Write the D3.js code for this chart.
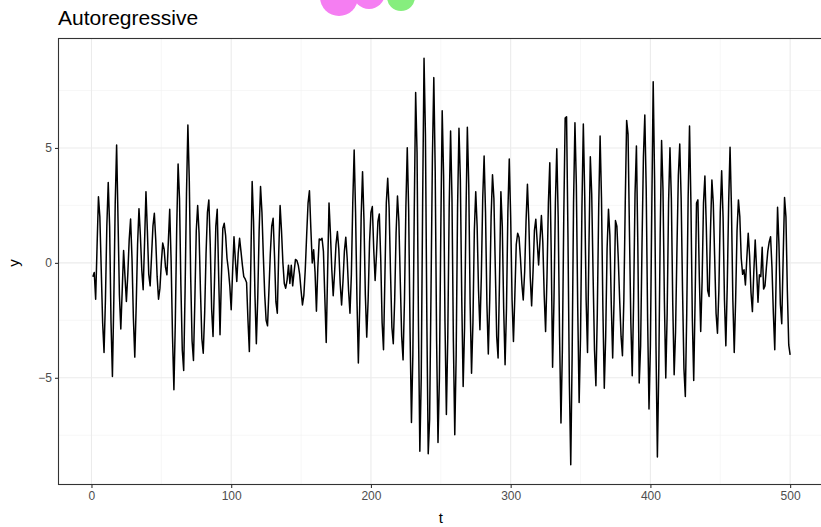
<!DOCTYPE html>
<html>
<head>
<meta charset="utf-8">
<script src="https://cdn.jsdelivr.net/npm/d3@7"></script>
<style>
  html, body { margin: 0; padding: 0; background: #ffffff; }
  svg { display: block; font-family: "Liberation Sans", Arial, Helvetica, sans-serif; }
</style>
</head>
<body>
<svg id="chart" width="821" height="527"></svg>
<script>
// Simulated autoregressive series, one value per time step t = 1..500
const yValues = [
  -0.6, -0.42, -1.58, 0.7, 2.88, 2.0, -0.3, -2.6, -3.9, -1.6,
  1.6, 3.5, 1.6, -2.6, -4.94, -1.6, 2.6, 5.13, 1.9, -1.4,
  -2.88, -1.2, 0.54, -0.6, -1.68, -0.5, 1.0, 1.91, 0.2, -2.4,
  -4.1, -1.9, 0.8, 2.36, 1.2, -0.3, -1.17, 0.9, 3.1, 1.4,
  -0.5, -1.0, 0.3, 1.6, 2.16, 1.0, -0.6, -1.58, -1.1, 0.0,
  0.86, 0.6, -0.2, -0.52, 0.9, 2.33, 0.1, -3.2, -5.52, -2.6,
  1.5, 4.3, 2.8, -1.0, -3.8, -4.68, -1.2, 3.0, 6.0, 3.6,
  -0.6, -3.4, -4.25, -1.6, 1.4, 2.5, 1.3, -1.2, -3.3, -3.93,
  -2.2, 0.4, 2.2, 2.74, 0.8, -2.0, -3.2, -0.9, 1.6, 2.33,
  -0.5, -3.13, -0.6, 1.5, 1.72, 1.2, 0.2, -0.3, -1.0, -2.04,
  -0.4, 1.14, 0.1, -0.81, 0.4, 1.07, 0.5, -0.1, -0.6, -0.7,
  -0.85, -2.5, -3.86, -0.2, 3.54, 1.8, -1.4, -3.52, -1.5, 1.4,
  3.32, 2.2, 0.3, -1.4, -2.5, -2.74, -1.2, 0.4, 1.6, 1.94,
  0.3, -1.7, -2.19, 0.4, 2.5, 1.4, 0.0, -0.9, -1.1, -0.75,
  -0.1, -0.9, -0.1, -1.0, -0.4, 0.15, 0.1, -0.1, -0.5, -1.2,
  -1.83, -1.4, -0.3, 1.2, 2.6, 3.14, 1.5, 0.0, 0.57, -0.4,
  -2.1, -0.2, 1.04, 1.0, 1.07, 0.5, -1.5, -3.46, -0.4, 2.6,
  1.3, -0.3, -1.43, -0.4, 0.8, 1.36, 0.6, -0.9, -1.83, -0.8,
  0.5, 1.12, 0.2, -1.2, -2.19, -0.5, 2.6, 4.91, 2.2, -1.6,
  -4.36, -1.8, 2.0, 3.97, 1.9, -1.4, -3.23, -1.6, 0.9, 2.2,
  2.45, 0.6, -0.77, 0.4, 1.8, 2.13, 0.2, -2.6, -3.78, -0.6,
  2.6, 3.68, 2.4, -0.4, -2.8, -3.52, -1.6, 1.3, 2.91, 1.8,
  -0.8, -3.2, -4.22, -1.6, 2.4, 5.01, 2.3, -3.0, -6.94, -4.0,
  2.2, 7.41, 4.8, -2.6, -8.2, -5.0, 2.6, 8.9, 5.6, -2.4,
  -8.3, -6.8, -1.2, 4.6, 8.06, 4.0, -3.4, -7.81, -5.0, 1.4,
  6.62, 3.8, -2.6, -6.6, -3.2, 2.4, 5.74, 2.8, -3.4, -7.48,
  -4.0, 2.4, 5.86, 3.6, -1.6, -5.38, -2.8, 2.0, 5.9, 3.4,
  -1.8, -4.8, -2.6, 1.4, 3.1, 1.6, -1.2, -2.91, -0.6, 2.8,
  4.65, 2.2, -1.8, -3.96, -1.6, 2.0, 3.83, 2.8, -0.2, -3.2,
  -4.14, -0.8, 3.1, 1.6, -2.0, -4.43, -2.0, 2.2, 4.52, 2.0,
  -1.6, -3.42, -1.4, 0.8, 1.29, 1.1, 0.2, -0.9, -1.61, -0.4,
  1.8, 3.42, 1.8, -0.6, -1.87, -0.4, 1.4, 1.9, 0.9, -0.09,
  1.0, 2.06, 0.9, -1.4, -2.99, -0.6, 2.6, 4.36, 0.5, -4.54,
  -1.6, 2.6, 4.97, 2.0, -3.2, -6.97, -3.8, 2.0, 6.3, 6.36,
  1.2, -5.2, -8.78, -4.0, 2.6, 6.1, 3.4, -2.0, -6.07, -3.2,
  2.4, 6.04, 2.9, -1.6, -3.9, 0.6, 4.62, 3.0, -0.6, -3.8,
  -5.35, -2.2, 2.4, 5.52, 2.8, -2.0, -5.45, -3.2, 0.6, 2.33,
  1.2, -1.8, -4.14, -1.6, 1.84, 1.6, 0.2, -1.6, -3.2, -4.04,
  -1.6, 2.6, 6.2, 5.6, 1.4, -2.6, -4.91, -1.6, 3.0, 5.09,
  0.8, -5.23, -3.6, 0.8, 4.6, 6.43, 3.2, -2.4, -6.36, -3.6,
  2.4, 7.88, 3.6, -3.6, -8.45, -4.6, 1.2, 5.32, 3.2, -1.6,
  -5.01, -2.2, 2.6, 5.01, 2.8, -1.8, -4.87, -3.0, 0.6, 3.8,
  5.17, 2.8, -1.2, -4.6, -5.81, -2.2, 2.8, 5.96, 2.6, -2.4,
  -5.12, -1.6, 2.6, 2.74, -0.6, -2.99, -0.8, 2.6, 3.78, 1.6,
  -1.2, -1.46, 1.4, 3.61, 2.6, 0.2, -2.2, -3.06, -1.2, 2.2,
  4.01, 2.0, -1.6, -3.61, -1.0, 2.6, 5.03, 2.4, -1.6, -3.9,
  -1.6, 1.4, 2.74, 2.0, 0.2, -0.5, -0.3, -0.96, 0.2, 1.29,
  0.3, -1.3, -2.12, -0.4, 1.0, -0.3, -1.71, -0.52, -0.6, 0.68,
  -1.14, -1.0, -0.2, 0.5, 0.9, 1.14, -0.2, -2.2, -3.78, -0.6,
  2.42, 0.8, -1.8, -2.65, 0.2, 2.84, 2.0, -1.2, -3.57, -4.0
];

const xTicks = [0, 100, 200, 300, 400, 500];
const xMinor = [50, 150, 250, 350, 450];
const yTicks = [-5, 0, 5];
const yMinor = [-7.5, -2.5, 2.5, 7.5];
const titleText = "Autoregressive";
const xLabel = "t";
const yLabel = "y";

const data = yValues.map((v, i) => ({ t: i + 1, y: v }));

const svg = d3.select("#chart");
const panel = { left: 58, right: 825, top: 38, bottom: 485 };

// ggplot-style 5% expansion around the data range
const tExt = d3.extent(data, d => d.t);
const yExt = d3.extent(data, d => d.y);
const tPad = (tExt[1] - tExt[0]) * 0.05;
const yPad = (yExt[1] - yExt[0]) * 0.05;

const x = d3.scaleLinear()
  .domain([tExt[0] - tPad, tExt[1] + tPad])
  .range([panel.left, panel.right]);
const y = d3.scaleLinear()
  .domain([yExt[0] - yPad, yExt[1] + yPad])
  .range([panel.bottom, panel.top]);

// decorative blobs above the panel
const blobs = svg.append("g");
blobs.append("circle").attr("cx", 339).attr("cy", -3).attr("r", 19).attr("fill", "#f57ef2");
blobs.append("circle").attr("cx", 369).attr("cy", -7).attr("r", 16).attr("fill", "#f57ef2");
blobs.append("circle").attr("cx", 401).attr("cy", -3).attr("r", 14).attr("fill", "#86ee7e");

// panel background
svg.append("rect")
  .attr("x", panel.left).attr("y", panel.top)
  .attr("width", panel.right - panel.left).attr("height", panel.bottom - panel.top)
  .attr("fill", "#ffffff");

const grid = svg.append("g");
grid.selectAll(".vminor").data(xMinor).join("line")
  .attr("x1", d => x(d)).attr("x2", d => x(d))
  .attr("y1", panel.top).attr("y2", panel.bottom)
  .attr("stroke", "#f2f2f2").attr("stroke-width", 0.6);
grid.selectAll(".hminor").data(yMinor).join("line")
  .attr("y1", d => y(d)).attr("y2", d => y(d))
  .attr("x1", panel.left).attr("x2", panel.right)
  .attr("stroke", "#f2f2f2").attr("stroke-width", 0.6);
grid.selectAll(".vmajor").data(xTicks).join("line")
  .attr("x1", d => x(d)).attr("x2", d => x(d))
  .attr("y1", panel.top).attr("y2", panel.bottom)
  .attr("stroke", "#ebebeb").attr("stroke-width", 1.1);
grid.selectAll(".hmajor").data(yTicks).join("line")
  .attr("y1", d => y(d)).attr("y2", d => y(d))
  .attr("x1", panel.left).attr("x2", panel.right)
  .attr("stroke", "#ebebeb").attr("stroke-width", 1.1);

// the series
const line = d3.line().x(d => x(d.t)).y(d => y(d.y));
svg.append("path")
  .datum(data)
  .attr("d", line)
  .attr("fill", "none")
  .attr("stroke", "#000000")
  .attr("stroke-width", 1.5)
  .attr("stroke-linejoin", "round");

// panel border
svg.append("rect")
  .attr("x", panel.left + 0.5).attr("y", panel.top + 0.5)
  .attr("width", panel.right - panel.left - 1).attr("height", panel.bottom - panel.top - 1)
  .attr("fill", "none").attr("stroke", "#333333").attr("stroke-width", 1.1);

const fmt = d => (d < 0 ? "\u2212" + Math.abs(d) : String(d));

// axes
const xAxis = svg.append("g")
  .attr("transform", `translate(0,${panel.bottom})`)
  .call(d3.axisBottom(x).tickValues(xTicks).tickSize(3).tickPadding(3).tickFormat(fmt));
const yAxis = svg.append("g")
  .attr("transform", `translate(${panel.left},0)`)
  .call(d3.axisLeft(y).tickValues(yTicks).tickSize(3).tickPadding(3).tickFormat(fmt));
[xAxis, yAxis].forEach(g => {
  g.select(".domain").remove();
  g.selectAll(".tick line").attr("stroke", "#333333").attr("stroke-width", 1.1);
  g.selectAll(".tick text")
    .attr("fill", "#4d4d4d")
    .style("font-size", "12px")
    .style("font-family", "'Liberation Sans', Arial, Helvetica, sans-serif");
});

// titles
svg.append("text")
  .attr("x", panel.left).attr("y", 25)
  .attr("fill", "#000000")
  .style("font-size", "21px")
  .text(titleText);
svg.append("text")
  .attr("x", (x(0) + x(500)) / 2).attr("y", 523)
  .attr("text-anchor", "middle")
  .attr("fill", "#000000")
  .style("font-size", "15px")
  .text(xLabel);
svg.append("text")
  .attr("transform", `translate(19,${y(0)}) rotate(-90)`)
  .attr("text-anchor", "middle")
  .attr("fill", "#000000")
  .style("font-size", "15px")
  .text(yLabel);
</script>
</body>
</html>
